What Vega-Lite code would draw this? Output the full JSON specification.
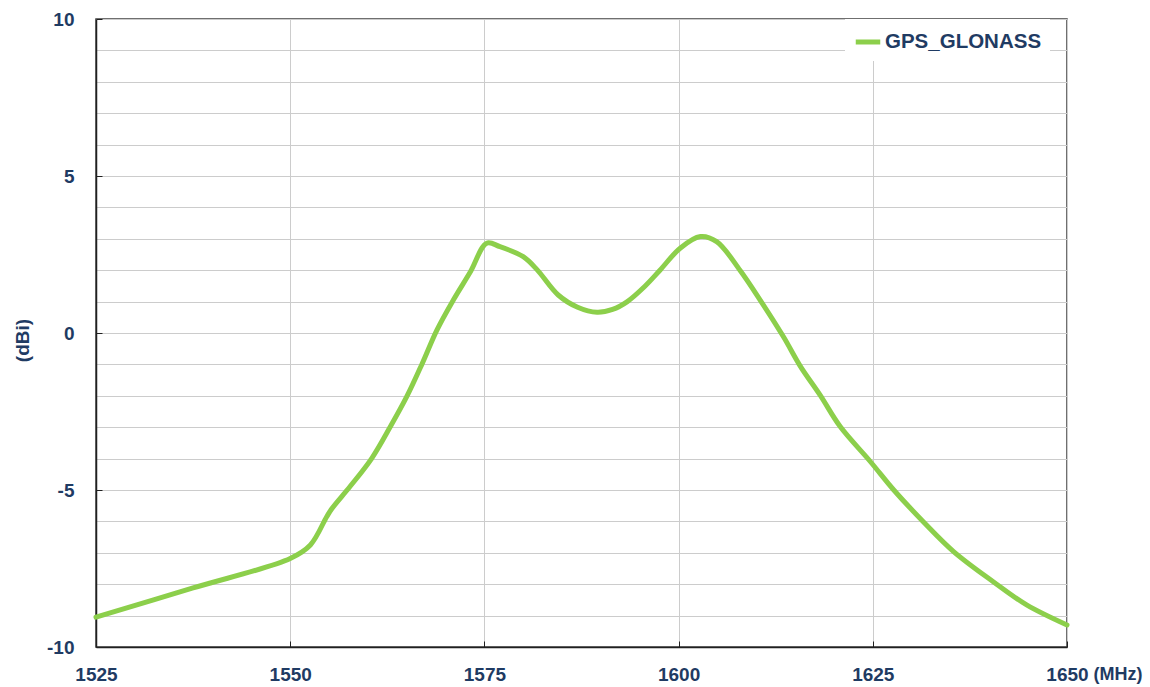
{
  "$schema": "https://vega.github.io/schema/vega-lite/v6.json",
  "width": 971,
  "height": 628,
  "autosize": "none",
  "padding": {"left": 96, "top": 19, "right": 83, "bottom": 40},
  "background": "white",
  "config": {
    "view": {"stroke": "#404040", "strokeWidth": 1.5},
    "font": "Liberation Sans"
  },
  "data": {
    "values": [
      {"f": 1525, "g": -9.05, "s": "GPS_GLONASS"},
      {"f": 1537.5, "g": -8.12, "s": "GPS_GLONASS"},
      {"f": 1550, "g": -7.18, "s": "GPS_GLONASS"},
      {"f": 1552.6, "g": -6.75, "s": "GPS_GLONASS"},
      {"f": 1554.7, "g": -5.85, "s": "GPS_GLONASS"},
      {"f": 1555.4, "g": -5.58, "s": "GPS_GLONASS"},
      {"f": 1557.7, "g": -4.89, "s": "GPS_GLONASS"},
      {"f": 1560.5, "g": -3.99, "s": "GPS_GLONASS"},
      {"f": 1562.9, "g": -2.98, "s": "GPS_GLONASS"},
      {"f": 1565, "g": -2.03, "s": "GPS_GLONASS"},
      {"f": 1567, "g": -0.97, "s": "GPS_GLONASS"},
      {"f": 1568.9, "g": 0.1, "s": "GPS_GLONASS"},
      {"f": 1571, "g": 1.05, "s": "GPS_GLONASS"},
      {"f": 1573.2, "g": 1.95, "s": "GPS_GLONASS"},
      {"f": 1575.3, "g": 2.86, "s": "GPS_GLONASS"},
      {"f": 1577, "g": 2.75, "s": "GPS_GLONASS"},
      {"f": 1580, "g": 2.43, "s": "GPS_GLONASS"},
      {"f": 1581.8, "g": 2.01, "s": "GPS_GLONASS"},
      {"f": 1584.5, "g": 1.21, "s": "GPS_GLONASS"},
      {"f": 1587, "g": 0.82, "s": "GPS_GLONASS"},
      {"f": 1589.5, "g": 0.66, "s": "GPS_GLONASS"},
      {"f": 1591.5, "g": 0.75, "s": "GPS_GLONASS"},
      {"f": 1593.4, "g": 1.0, "s": "GPS_GLONASS"},
      {"f": 1595.5, "g": 1.45, "s": "GPS_GLONASS"},
      {"f": 1597.6, "g": 2.0, "s": "GPS_GLONASS"},
      {"f": 1600.2, "g": 2.7, "s": "GPS_GLONASS"},
      {"f": 1602.8, "g": 3.07, "s": "GPS_GLONASS"},
      {"f": 1604.9, "g": 2.91, "s": "GPS_GLONASS"},
      {"f": 1607.9, "g": 2.0, "s": "GPS_GLONASS"},
      {"f": 1610.5, "g": 1.05, "s": "GPS_GLONASS"},
      {"f": 1613.5, "g": -0.12, "s": "GPS_GLONASS"},
      {"f": 1615.7, "g": -1.07, "s": "GPS_GLONASS"},
      {"f": 1618.2, "g": -1.97, "s": "GPS_GLONASS"},
      {"f": 1620.8, "g": -2.98, "s": "GPS_GLONASS"},
      {"f": 1624.7, "g": -4.1, "s": "GPS_GLONASS"},
      {"f": 1627.7, "g": -5.0, "s": "GPS_GLONASS"},
      {"f": 1631.5, "g": -6.01, "s": "GPS_GLONASS"},
      {"f": 1635.4, "g": -6.96, "s": "GPS_GLONASS"},
      {"f": 1640.5, "g": -7.92, "s": "GPS_GLONASS"},
      {"f": 1644.8, "g": -8.66, "s": "GPS_GLONASS"},
      {"f": 1650, "g": -9.3, "s": "GPS_GLONASS"}
    ]
  },
  "mark": {"type": "line", "interpolate": "catmull-rom", "strokeWidth": 5, "strokeCap": "round", "strokeJoin": "round"},
  "encoding": {
    "x": {
      "field": "f", "type": "quantitative",
      "scale": {"domain": [1525, 1650], "nice": false, "zero": false},
      "axis": {
        "values": [1525, 1550, 1575, 1600, 1625, 1650],
        "labelExpr": "'' + datum.value",
        "title": "(MHz)",
        "titleX": 997, "titleY": 27, "titleAlign": "left", "titleBaseline": "middle",
        "titleFontSize": 18, "titleFontWeight": "bold", "titleColor": "#1F3B63",
        "labelFontSize": 19, "labelFontWeight": "bold", "labelColor": "#1F3B63",
        "labelPadding": 24, "labelFlush": false,
        "domainColor": "#202020", "domainWidth": 1.5,
        "tickSize": -6, "tickColor": "#202020",
        "gridColor": "#CCCCCC", "gridWidth": 1
      }
    },
    "y": {
      "field": "g", "type": "quantitative",
      "scale": {"domain": [-10, 10], "nice": false},
      "axis": {
        "values": [-10, -9, -8, -7, -6, -5, -4, -3, -2, -1, 0, 1, 2, 3, 4, 5, 6, 7, 8, 9, 10],
        "labelExpr": "datum.value % 5 === 0 ? '' + datum.value : ''",
        "title": "(dBi)",
        "titleX": -74, "titleY": 321, "titleAngle": -90, "titleAlign": "center", "titleBaseline": "middle",
        "titleFontSize": 19, "titleFontWeight": "bold", "titleColor": "#1F3B63",
        "labelFontSize": 19, "labelFontWeight": "bold", "labelColor": "#1F3B63",
        "labelPadding": 28, "labelFlush": false,
        "domainColor": "#202020", "domainWidth": 1.5,
        "tickSize": -6,
        "tickColor": {"condition": {"test": "datum.value % 5 === 0", "value": "#202020"}, "value": "transparent"},
        "gridColor": "#CCCCCC", "gridWidth": 1
      }
    },
    "color": {
      "field": "s", "type": "nominal",
      "scale": {"range": ["#8CCF4B"]},
      "legend": {
        "title": null, "orient": "none", "legendX": 749, "legendY": 0,
        "fillColor": "white", "padding": 8,
        "symbolType": "stroke", "symbolStrokeWidth": 5, "symbolSize": 600,
        "labelFontSize": 20.5, "labelFontWeight": "bold", "labelColor": "#1F3B63",
        "labelOffset": 2
      }
    }
  }
}
